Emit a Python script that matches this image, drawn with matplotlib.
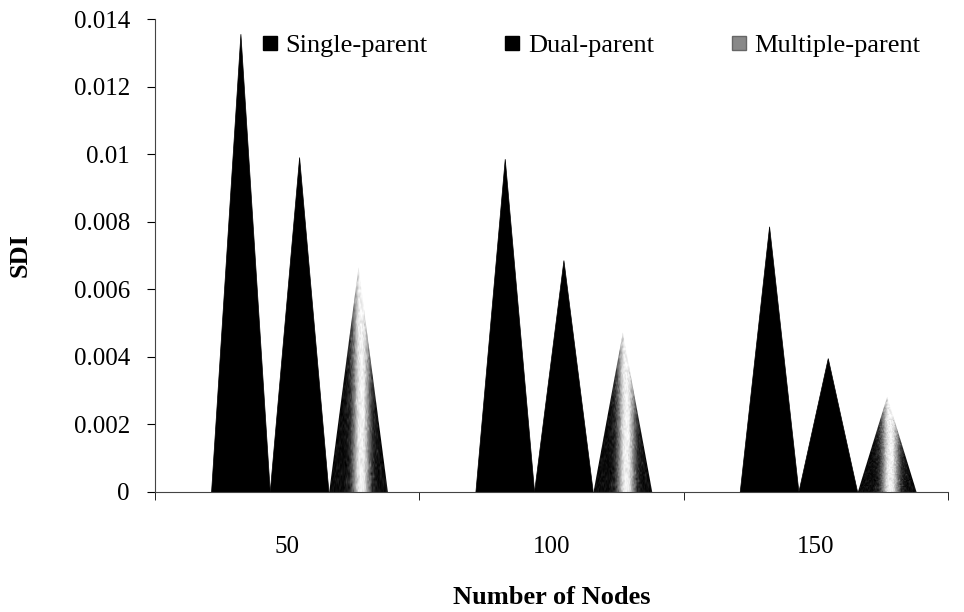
import matplotlib.pyplot as plt
from matplotlib.patches import Polygon
from matplotlib.lines import Line2D
import numpy as np

# Data
nodes = ['50', '100', '150']
series = ['Single-parent', 'Dual-parent', 'Multiple-parent']
single_parent = [0.01355, 0.00985, 0.00785]
dual_parent = [0.00990, 0.00685, 0.00395]
multiple_parent = [0.00665, 0.00472, 0.00282]

plt.rcParams['font.family'] = ['Liberation Serif', 'DejaVu Serif']

fig = plt.figure(figsize=(9.64, 6.12), dpi=100)
ax = fig.add_axes([155 / 964, 1 - 492 / 612, (948 - 155) / 964, (492 - 19) / 612])

x = np.arange(len(nodes))
offsets = [-0.175, 0.047, 0.27]
half = 0.111

# shading for the multiple-parent cones: dark edges, light stripe in the middle
t = np.linspace(-1, 1, 240)
light = np.exp(-((t - 0.1) / 0.3) ** 2)
light = np.tile(light, (80, 1))
rng_tex = np.random.default_rng(3)  # only stipple texture, not data
tex = np.clip(light + 0.12 * rng_tex.standard_normal(light.shape), 0, 1)

for vals, off, name in zip([single_parent, dual_parent, multiple_parent], offsets, series):
    for xi, v in zip(x, vals):
        cx = xi + off
        pts = [(cx - half, 0), (cx, v), (cx + half, 0)]
        if name == 'Multiple-parent':
            poly = Polygon(pts, closed=True, facecolor='none', edgecolor='none')
            ax.add_patch(poly)
            im = ax.imshow(tex, cmap='gray', vmin=0, vmax=1, aspect='auto',
                           extent=(cx - half, cx + half, 0, v), interpolation='bilinear',
                           zorder=2)
            im.set_clip_path(poly)
        else:
            ax.add_patch(Polygon(pts, closed=True, facecolor='black', edgecolor='black',
                                 linewidth=0.5, zorder=2))

ax.set_xlim(-0.5, 2.5)
ax.set_ylim(0, 0.014)
ax.set_yticks(np.arange(0, 0.0141, 0.002))
ax.set_yticklabels(['0', '0.002', '0.004', '0.006', '0.008', '0.01', '0.012', '0.014'])
ax.set_xticks(x)
ax.set_xticklabels(nodes)
ax.set_xticks([-0.5, 0.5, 1.5, 2.5], minor=True)
ax.tick_params(axis='x', which='major', length=0, pad=32, labelsize=18)
ax.tick_params(axis='x', which='minor', length=6, direction='out')
ax.tick_params(axis='y', length=6, direction='out', labelsize=18, pad=12)

for s in ['top', 'right']:
    ax.spines[s].set_visible(False)
ax.spines['left'].set_color('#444444')
ax.spines['bottom'].set_color('#444444')

ax.set_ylabel('SDI', fontsize=19, fontweight='bold', labelpad=30)
ax.set_xlabel('Number of Nodes', fontsize=19, fontweight='bold', labelpad=20)

# legend
handles = [
    Line2D([], [], marker='s', linestyle='none', markersize=10, markerfacecolor='black', markeredgecolor='black'),
    Line2D([], [], marker='s', linestyle='none', markersize=10, markerfacecolor='black', markeredgecolor='black'),
    Line2D([], [], marker='s', linestyle='none', markersize=10, markerfacecolor='#888888', markeredgecolor='#666666'),
]
ax.legend(handles, series, loc='upper center', bbox_to_anchor=(0.545, 1.02), ncol=3,
          frameon=False, fontsize=19, handletextpad=0.0, columnspacing=2.6,
          handlelength=1.2)

fig.savefig('out.png', dpi=100)
